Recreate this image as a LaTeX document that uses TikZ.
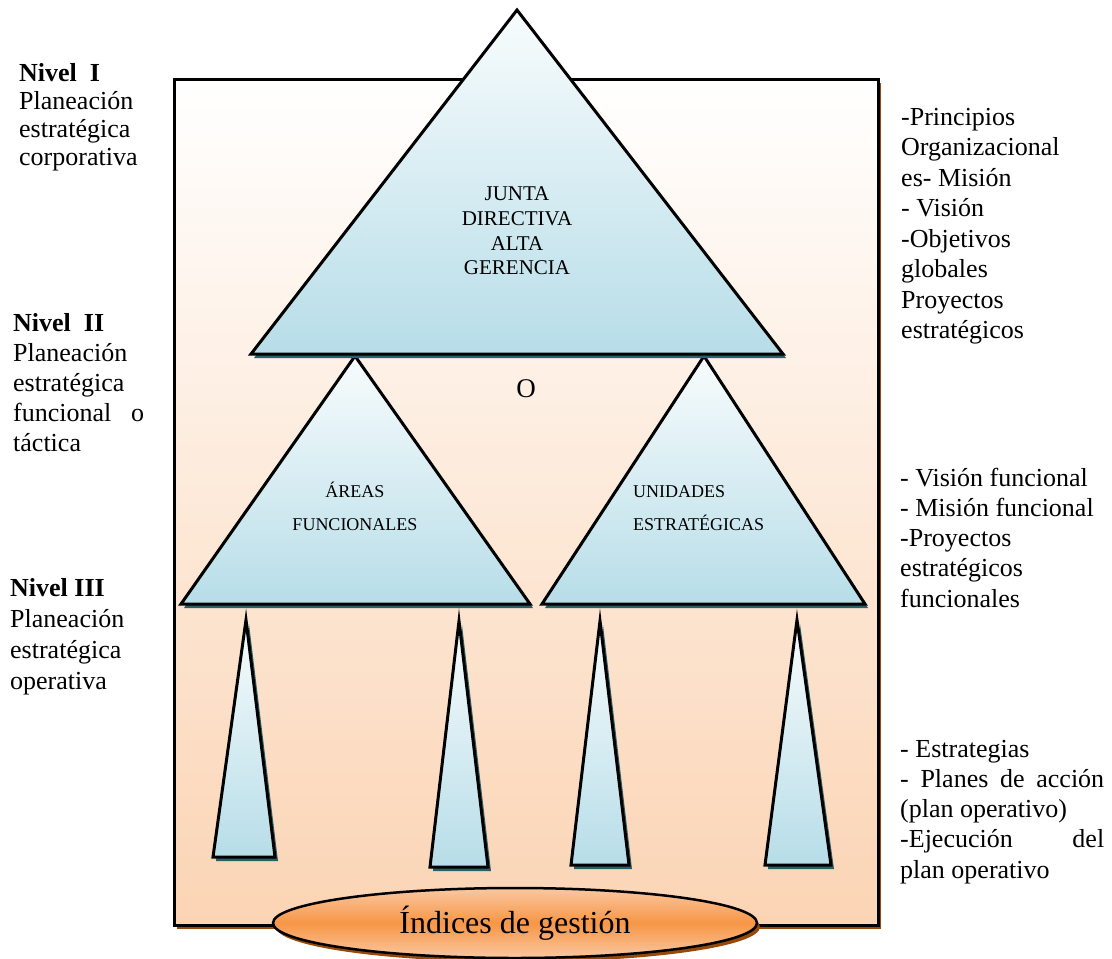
\documentclass[tikz,border=0pt]{standalone}
\usepackage{fontspec}
\setmainfont{Liberation Serif}
\usetikzlibrary{shapes.geometric}

\definecolor{triblue}{HTML}{B7DDE8}
\definecolor{tritop}{HTML}{F8FCFD}
\definecolor{trishadow}{HTML}{2A5F6C}
\definecolor{peach}{HTML}{FBD4B4}
\definecolor{brownshadow}{HTML}{984807}
\definecolor{orangefill}{HTML}{F79646}
\definecolor{orangelight}{HTML}{FAC8A2}

% triangle with a drop shadow: name, apex, base left, base right
\newcommand\shadowtri[4]{%
  \fill[trishadow] ([shift={(3,4)}]#2) -- ([shift={(3,4)}]#3) -- ([shift={(3,4)}]#4) -- cycle;
  \coordinate (#1-apex) at (#2);
  \coordinate (#1-left) at (#3);
  \coordinate (#1-right) at (#4);
  \draw[tri] (#1-apex) -- (#1-left) -- (#1-right) -- cycle;}

\begin{document}
\begin{tikzpicture}[x=1pt,y=-1pt,
  tri/.style={draw=black, line width=3pt, line join=miter, top color=tritop, bottom color=triblue},
  txt/.style={inner sep=0pt, anchor=base west, font=\fontsize{26}{30}\selectfont},
  bigcap/.style={inner sep=0pt, anchor=base, font=\fontsize{21}{25}\selectfont},
  midcap/.style={inner sep=0pt, font=\fontsize{18}{22}\selectfont},
]
\useasboundingbox (0,0) rectangle (1112,959);

% frame with shadow
\fill[brownshadow] (177,83) rectangle (881,929);
\draw[line width=3pt, top color=white, bottom color=peach] (174,79) rectangle (878,925);

% operative level
\shadowtri{s1}{246,620}{213,857}{275,857}
\shadowtri{s2}{459,621}{430,867}{488,867}
\shadowtri{s3}{600,621}{571,865}{629,865}
\shadowtri{s4}{797,620}{765,865}{831,865}

% functional level
\shadowtri{ma}{355,356}{181,604}{530,604}
\shadowtri{mb}{704,356}{542,604}{865,604}

% corporate level
\shadowtri{top}{517,10}{251,354}{783,354}

\node[bigcap] (jd1) at (517,200) {JUNTA};
\node[bigcap] (jd2) at (517,225) {DIRECTIVA};
\node[bigcap] (jd3) at (517,250) {ALTA};
\node[bigcap] (jd4) at (517,274) {GERENCIA};

\node[midcap, anchor=base] (af1) at (355,497) {ÁREAS};
\node[midcap, anchor=base] (af2) at (355,530) {FUNCIONALES};
\node[midcap, anchor=base west] (ue1) at (633,497) {UNIDADES};
\node[midcap, anchor=base west] (ue2) at (633,530) {ESTRATÉGICAS};

\node[inner sep=0pt, anchor=base, font=\fontsize{27}{30}\selectfont] (o) at (526,397) {O};

% management indices
\node[ellipse, fill=brownshadow, minimum width=484pt, minimum height=70pt, inner sep=0pt] (idxsh) at (518,927) {};
\node[ellipse, draw=black, line width=2.5pt, minimum width=484pt, minimum height=70pt, inner sep=0pt,
      top color=orangelight, bottom color=orangelight, middle color=orangefill] (idx) at (515,923)
      {\fontsize{32}{36}\selectfont Índices de gestión};

% level labels
\foreach \t [count=\i from 0] in {{\textbf{Nivel~~I}}, Planeación, estratégica, corporativa}
  \node[txt] (la-\i) at (19,{81+28*\i}) {\t};
\foreach \t [count=\i from 0] in {{\textbf{Nivel~~II}}, Planeación, estratégica, {\makebox[131pt][s]{funcional o}}, táctica}
  \node[txt] (lb-\i) at (13,{331+30*\i}) {\t};
\foreach \t [count=\i from 0] in {{\textbf{Nivel III}}, Planeación, estratégica, operativa}
  \node[txt] (lc-\i) at (10,{596+31*\i}) {\t};

% level contents
\foreach \t [count=\i from 0] in {-Principios, Organizacional, es- Misión, - Visión, -Objetivos, globales, Proyectos, estratégicos}
  \node[txt] (ra-\i) at (901,{125+30.5*\i}) {\t};
\foreach \t [count=\i from 0] in {- Visión funcional, - Misión funcional, -Proyectos, estratégicos, funcionales}
  \node[txt] (rb-\i) at (900,{486+30.3*\i}) {\t};
\foreach \t [count=\i from 0] in {- Estrategias, {\makebox[204pt][s]{- Planes de acción}}, (plan operativo), {\makebox[204pt][s]{-Ejecución del}}, plan operativo}
  \node[txt] (rc-\i) at (900,{757+30.3*\i}) {\t};
\end{tikzpicture}
\end{document}
